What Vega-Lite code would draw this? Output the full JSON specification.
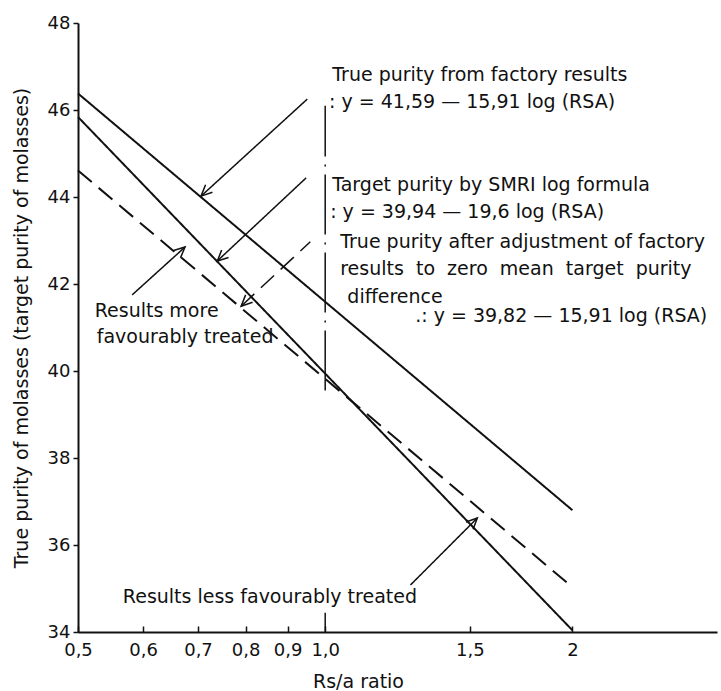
{
  "$schema": "https://vega.github.io/schema/vega-lite/v6.json",
  "width": 639,
  "height": 609,
  "autosize": "none",
  "padding": {"left": 78, "top": 23, "right": 4, "bottom": 59},
  "background": "white",
  "config": {
    "view": {"stroke": null},
    "font": "DejaVu Sans",
    "axis": {
      "grid": false,
      "domainColor": "#111",
      "tickColor": "#111",
      "labelColor": "#111",
      "titleColor": "#111",
      "labelFont": "DejaVu Sans",
      "titleFont": "DejaVu Sans",
      "labelFontSize": 18,
      "titleFontSize": 19,
      "titleFontWeight": "normal",
      "domainWidth": 2,
      "tickWidth": 1.5
    }
  },
  "datasets": {
    "lines": [
      {"series": "true", "rsa": 0.5, "purity": 46.38},
      {"series": "true", "rsa": 2, "purity": 36.8},
      {"series": "target", "rsa": 0.5, "purity": 45.84},
      {"series": "target", "rsa": 2, "purity": 34.04},
      {"series": "adjusted", "rsa": 0.5, "purity": 44.61},
      {"series": "adjusted", "rsa": 2, "purity": 35.03}
    ],
    "shafts": [
      {"arrow": "a1", "rsa": 0.951, "purity": 46.25},
      {"arrow": "a1", "rsa": 0.706, "purity": 44.02},
      {"arrow": "a2", "rsa": 0.948, "purity": 44.44},
      {"arrow": "a2", "rsa": 0.739, "purity": 42.53},
      {"arrow": "a3", "rsa": 0.959, "purity": 42.97},
      {"arrow": "a3", "rsa": 0.79, "purity": 41.49},
      {"arrow": "a4", "rsa": 0.582, "purity": 41.75},
      {"arrow": "a4", "rsa": 0.675, "purity": 42.85},
      {"arrow": "a5", "rsa": 1.27, "purity": 35.08},
      {"arrow": "a5", "rsa": 1.532, "purity": 36.62}
    ],
    "heads": [
      {"arrow": "a1", "k": 0, "rsa": 0.729, "purity": 44.11},
      {"arrow": "a1", "k": 1, "rsa": 0.706, "purity": 44.02},
      {"arrow": "a1", "k": 2, "rsa": 0.715, "purity": 44.28},
      {"arrow": "a2", "k": 0, "rsa": 0.7626, "purity": 42.61},
      {"arrow": "a2", "k": 1, "rsa": 0.739, "purity": 42.53},
      {"arrow": "a2", "k": 2, "rsa": 0.748, "purity": 42.78},
      {"arrow": "a3", "k": 0, "rsa": 0.8158, "purity": 41.58},
      {"arrow": "a3", "k": 1, "rsa": 0.79, "purity": 41.49},
      {"arrow": "a3", "k": 2, "rsa": 0.8, "purity": 41.75},
      {"arrow": "a4", "k": 0, "rsa": 0.6537, "purity": 42.77},
      {"arrow": "a4", "k": 1, "rsa": 0.675, "purity": 42.85},
      {"arrow": "a4", "k": 2, "rsa": 0.6664, "purity": 42.6},
      {"arrow": "a5", "k": 0, "rsa": 1.484, "purity": 36.53},
      {"arrow": "a5", "k": 1, "rsa": 1.532, "purity": 36.62},
      {"arrow": "a5", "k": 2, "rsa": 1.514, "purity": 36.36}
    ],
    "labels": [
      {"label": "True purity from factory results", "rsa": 1.02, "purity": 46.67},
      {"label": ": y = 41,59 — 15,91 log (RSA)", "rsa": 1.011, "purity": 46.04},
      {"label": "Target purity by SMRI log formula", "rsa": 1.02, "purity": 44.14},
      {"label": ": y = 39,94 — 19,6 log (RSA)", "rsa": 1.014, "purity": 43.51},
      {"label": "True purity after adjustment of factory", "rsa": 1.043, "purity": 42.82},
      {"label": "results\u00a0 to\u00a0 zero\u00a0 mean\u00a0 target\u00a0 purity", "rsa": 1.043, "purity": 42.21},
      {"label": "difference", "rsa": 1.064, "purity": 41.56},
      {"label": ".: y = 39,82 — 15,91 log (RSA)", "rsa": 1.287, "purity": 41.13},
      {"label": "Results more", "rsa": 0.524, "purity": 41.25},
      {"label": "favourably treated", "rsa": 0.527, "purity": 40.64},
      {"label": "Results less favourably treated", "rsa": 0.567, "purity": 34.66}
    ]
  },
  "layer": [
    {
      "data": {"name": "lines"},
      "mark": {"type": "line", "color": "#111", "strokeWidth": 2},
      "encoding": {
        "x": {
          "field": "rsa",
          "type": "quantitative",
          "scale": {"type": "log", "domain": [0.5, 3], "nice": false},
          "axis": {
            "title": "Rs/a ratio",
            "values": [0.5, 0.6, 0.7, 0.8, 0.9, 1, 1.5, 2],
            "labelExpr": "datum.value == 2 ? '2' : replace(format(datum.value, '.1f'), '.', ',')",
            "tickSize": -6,
            "labelPadding": 15,
            "titlePadding": 13,
            "titleX": 280,
            "labelFlush": false,
            "labelOverlap": false
          }
        },
        "y": {
          "field": "purity",
          "type": "quantitative",
          "scale": {"domain": [34, 48], "zero": false, "nice": false},
          "axis": {
            "title": "True purity of molasses (target purity of molasses)",
            "values": [34, 36, 38, 40, 42, 44, 46, 48],
            "tickSize": 5,
            "labelPadding": 3,
            "titlePadding": 16
          }
        },
        "strokeDash": {
          "field": "series",
          "type": "nominal",
          "scale": {"domain": ["true", "target", "adjusted"], "range": [[1, 0], [1, 0], [18, 9]]},
          "legend": null
        }
      }
    },
    {
      "data": {"values": [{"rsa": 1, "lo": 39.55, "hi": 46.1}]},
      "mark": {"type": "rule", "color": "#111", "strokeWidth": 1.5, "strokeDash": [60, 8, 2, 8]},
      "encoding": {
        "x": {"field": "rsa", "type": "quantitative"},
        "y": {"field": "lo", "type": "quantitative"},
        "y2": {"field": "hi"}
      }
    },
    {
      "data": {"values": [{"rsa": 1, "lo": 34, "hi": 34.44}]},
      "mark": {"type": "rule", "color": "#111", "strokeWidth": 1.5},
      "encoding": {
        "x": {"field": "rsa", "type": "quantitative"},
        "y": {"field": "lo", "type": "quantitative"},
        "y2": {"field": "hi"}
      }
    },
    {
      "data": {"name": "shafts"},
      "mark": {"type": "line", "color": "#111", "strokeWidth": 1.5},
      "encoding": {
        "x": {"field": "rsa", "type": "quantitative"},
        "y": {"field": "purity", "type": "quantitative"},
        "strokeDash": {
          "field": "arrow",
          "type": "nominal",
          "scale": {"domain": ["a1", "a2", "a3", "a4", "a5"], "range": [[16, 5, 2, 5], [34, 7], [34, 7], [1, 0], [1, 0]]},
          "legend": null
        }
      }
    },
    {
      "data": {"name": "heads"},
      "mark": {"type": "line", "color": "#111", "strokeWidth": 1.5},
      "encoding": {
        "x": {"field": "rsa", "type": "quantitative"},
        "y": {"field": "purity", "type": "quantitative"},
        "detail": {"field": "arrow", "type": "nominal"},
        "order": {"field": "k", "type": "quantitative"}
      }
    },
    {
      "data": {"name": "labels"},
      "mark": {"type": "text", "align": "left", "baseline": "alphabetic", "fontSize": 19, "font": "DejaVu Sans", "color": "#111"},
      "encoding": {
        "x": {"field": "rsa", "type": "quantitative"},
        "y": {"field": "purity", "type": "quantitative"},
        "text": {"field": "label", "type": "nominal"}
      }
    }
  ]
}
